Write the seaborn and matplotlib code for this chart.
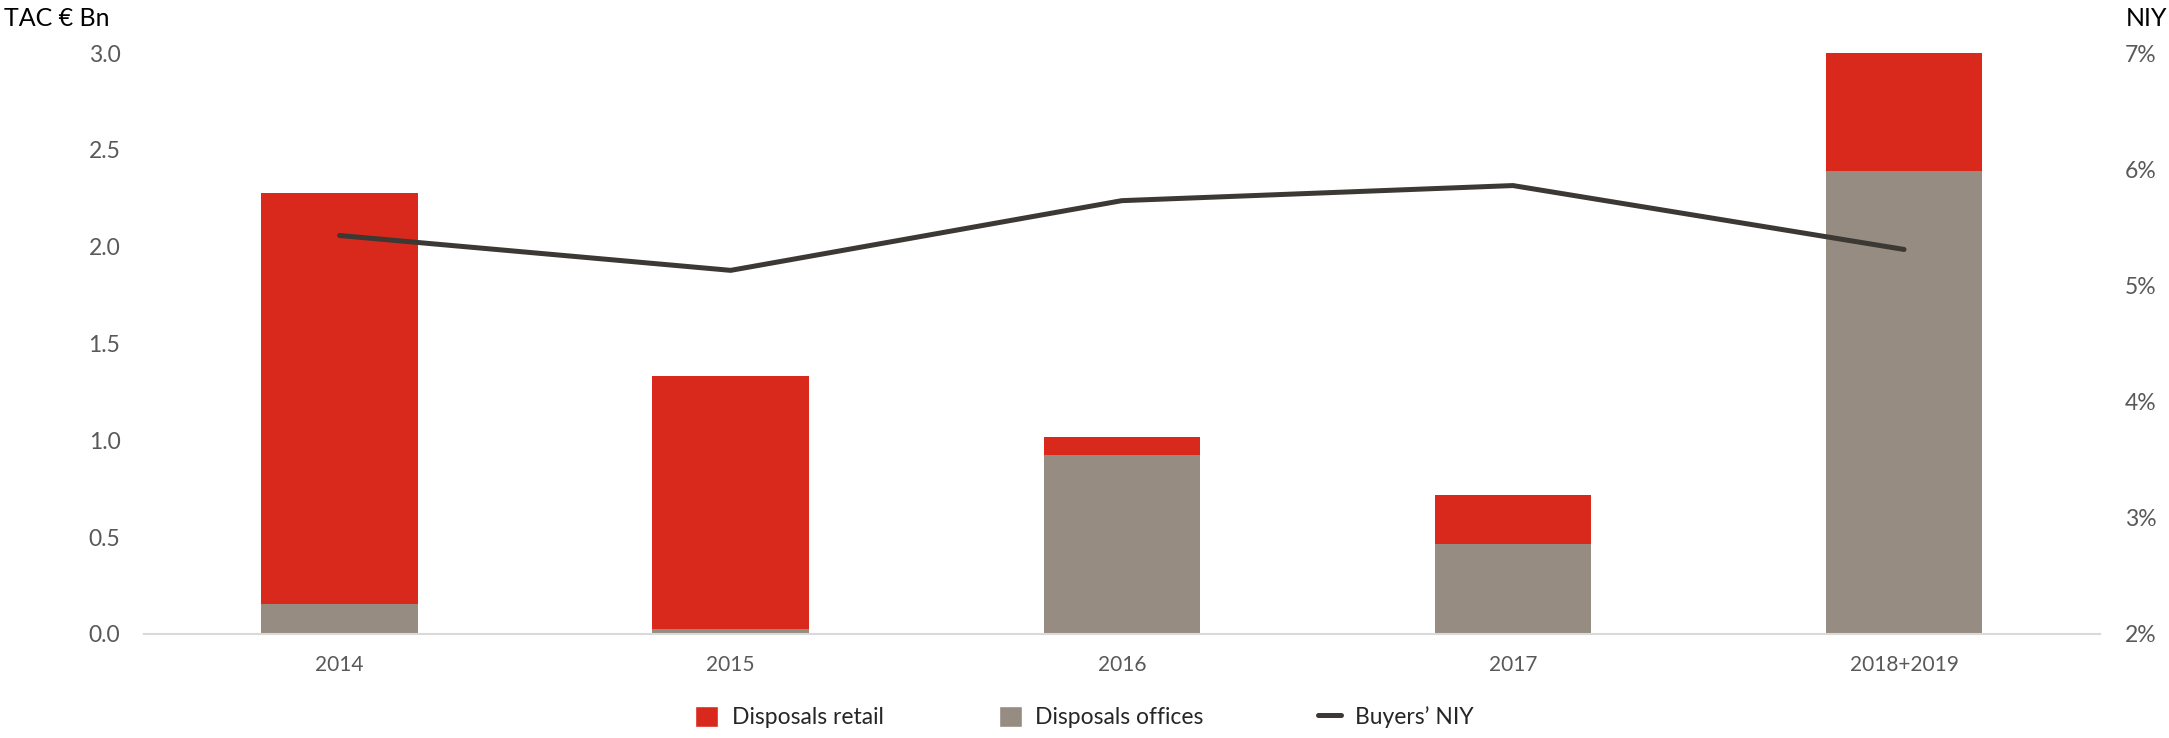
import matplotlib
matplotlib.use('Agg')
import matplotlib.pyplot as plt
import seaborn as sns
import numpy as np
from matplotlib.patches import Patch
from matplotlib.lines import Line2D

years = ['2014', '2015', '2016', '2017', '2018+2019']
offices = [0.155, 0.025, 0.925, 0.463, 2.39]
retail = [2.125, 1.305, 0.09, 0.253, 0.61]
niy = [5.43, 5.13, 5.73, 5.86, 5.31]

totals = [o + r for o, r in zip(offices, retail)]

red = '#D9291C'
grey = '#968C82'
dark = '#3C3834'
tick_col = '#595959'

sns.set_style('white')
plt.rcParams['font.family'] = ['Lato', 'DejaVu Sans']

fig = plt.figure(figsize=(21.69, 7.38), dpi=100)
ax = fig.add_axes([0.0664, 0.141, 0.9016, 0.787])

# stacked bars: total in red, offices in grey on top of it
sns.barplot(x=years, y=totals, color=red, saturation=1, width=0.4, linewidth=0, ax=ax)
sns.barplot(x=years, y=offices, color=grey, saturation=1, width=0.4, linewidth=0, ax=ax)

ax.set_xlim(-0.5, 4.5)
ax.set_ylim(0, 3.0)
ax.set_yticks(np.arange(0, 3.01, 0.5))
ax.set_yticklabels([f'{v:.1f}' for v in np.arange(0, 3.01, 0.5)])
ax.tick_params(axis='y', length=0, pad=17, labelsize=16.5, labelcolor=tick_col)
ax.tick_params(axis='x', length=0, pad=15, labelsize=15, labelcolor=tick_col)
for s in ['top', 'right', 'left']:
    ax.spines[s].set_visible(False)
ax.spines['bottom'].set_color('#D9D9D9')
ax.spines['bottom'].set_linewidth(1.5)
ax.set_xlabel('')
ax.set_ylabel('')

ax2 = ax.twinx()
sns.lineplot(x=np.arange(len(years)), y=niy, color=dark, linewidth=3.6, ax=ax2,
             solid_capstyle='round')
ax2.set_ylim(2, 7)
ax2.set_yticks(range(2, 8))
ax2.set_yticklabels([f'{v}%' for v in range(2, 8)])
ax2.tick_params(axis='y', length=0, pad=18, labelsize=16.5, labelcolor=tick_col)
for s in ['top', 'right', 'left', 'bottom']:
    ax2.spines[s].set_visible(False)
ax2.set_ylabel('')
ax2.set_xlim(-0.5, 4.5)

fig.text(0.002, 0.975, 'TAC € Bn', fontsize=18, color='black', ha='left', va='center')
fig.text(0.999, 0.975, 'NIY', fontsize=18, color='black', ha='right', va='center')

handles = [Patch(facecolor=red, label='Disposals retail'),
           Patch(facecolor=grey, label='Disposals offices'),
           Line2D([0], [0], color=dark, lw=3.6, label='Buyers\u2019 NIY')]
fig.legend(handles=handles, loc='center', bbox_to_anchor=(0.5, 0.028), ncol=3,
           frameon=False, fontsize=16.5, columnspacing=5.0, handlelength=1.0,
           handleheight=1.0, handletextpad=0.6)

fig.savefig('out.png', dpi=100)
